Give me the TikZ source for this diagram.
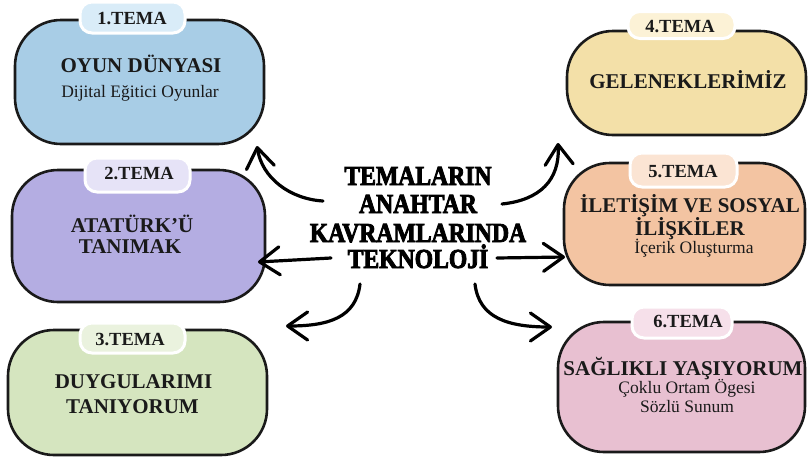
\documentclass[tikz,border=0pt]{standalone}
\usepackage{fontspec}
\setmainfont{Liberation Serif}
\newfontfamily\heavy[FakeBold=3,FakeStretch=0.86]{Liberation Serif Bold}
\usetikzlibrary{arrows.meta}
\definecolor{f1}{HTML}{A8CDE6}\definecolor{t1}{HTML}{D9ECF8}
\definecolor{f2}{HTML}{B4ADE2}\definecolor{t2}{HTML}{E6E3F7}
\definecolor{f3}{HTML}{D5E5BF}\definecolor{t3}{HTML}{EAF2DE}
\definecolor{f4}{HTML}{F3E0A8}\definecolor{t4}{HTML}{FCF2D6}
\definecolor{f5}{HTML}{F3C4A2}\definecolor{t5}{HTML}{FBE4D3}
\definecolor{f6}{HTML}{E8C0D1}\definecolor{t6}{HTML}{F6E0EA}
\definecolor{ink}{HTML}{1A1A1A}
\tikzset{
  box/.style={draw=ink, line width=2.6pt, rounded corners=46pt, inner sep=0pt},
  tab/.style={draw=white, line width=3pt, rounded corners=12pt, inner sep=0pt},
  tabtxt/.style={anchor=base, inner sep=0pt, text=ink, font=\fontsize{18.5}{20}\selectfont\bfseries},
  head/.style={anchor=base, inner sep=0pt, text=ink, font=\fontsize{21}{23}\selectfont\bfseries},
  sub/.style={anchor=base, inner sep=0pt, text=ink, font=\fontsize{17.5}{19}\selectfont},
  ctr/.style={anchor=base, inner sep=0pt, text=black, font=\fontsize{27.5}{28}\selectfont\heavy},
  arr/.style={line width=3.2pt, black, line cap=round, line join=round,
    -{Straight Barb[length=20pt,width=28pt,line width=3.2pt,round]}}
}
\begin{document}
\begin{tikzpicture}[x=1pt,y=-1pt]
\useasboundingbox (0,0) rectangle (809,461);
% boxes
\node[box, fill=f1, minimum width=249pt, minimum height=124pt] (b1) at (139.5,82) {};
\node[box, fill=f2, minimum width=253pt, minimum height=132pt] (b2) at (138.5,236) {};
\node[box, fill=f3, minimum width=259pt, minimum height=125pt] (b3) at (137.5,392.5) {};
\node[box, fill=f4, minimum width=239pt, minimum height=104pt] (b4) at (686.5,83) {};
\node[box, fill=f5, minimum width=241pt, minimum height=122pt] (b5) at (684.5,224) {};
\node[box, fill=f6, minimum width=247pt, minimum height=130pt] (b6) at (681.5,387) {};
% tabs
\node[tab, fill=t1, minimum width=105pt, minimum height=31pt] (p1) at (132.5,17.5) {};
\node[tab, fill=t2, minimum width=105pt, minimum height=34pt] (p2) at (137.5,175) {};
\node[tab, fill=t3, minimum width=105pt, minimum height=30pt] (p3) at (132.5,338) {};
\node[tab, fill=t4, minimum width=107pt, minimum height=27pt] (p4) at (681.5,25) {};
\node[tab, fill=t5, minimum width=107pt, minimum height=34pt] (p5) at (683.5,170) {};
\node[tab, fill=t6, minimum width=100pt, minimum height=31pt] (p6) at (682,322.5) {};
\node[tabtxt] (l1) at (132,24) {1.TEMA};
\node[tabtxt] (l2) at (139,179) {2.TEMA};
\node[tabtxt] (l3) at (130,345) {3.TEMA};
\node[tabtxt] (l4) at (680,32) {4.TEMA};
\node[tabtxt] (l5) at (683,177) {5.TEMA};
\node[tabtxt] (l6) at (688,327) {6.TEMA};
% box texts
\node[head] (h1) at (141,72) {OYUN DÜNYASI};
\node[sub] (s1) at (140,97) {Dijital Eğitici Oyunlar};
\node[head] (h2a) at (132,232) {ATATÜRK’Ü};
\node[head] (h2b) at (130,253) {TANIMAK};
\node[head] (h3a) at (133.5,388) {DUYGULARIMI};
\node[head] (h3b) at (132.5,413) {TANIYORUM};
\node[head] (h4) at (688,88) {GELENEKLERİMİZ};
\node[head] (h5a) at (690,212) {İLETİŞİM VE SOSYAL};
\node[head] (h5b) at (690,235) {İLİŞKİLER};
\node[sub] (s5) at (694,253) {İçerik Oluşturma};
\node[head] (h6) at (683,375) {SAĞLIKLI YAŞIYORUM};
\node[sub] (s6a) at (687,393) {Çoklu Ortam Ögesi};
\node[sub] (s6b) at (687,412) {Sözlü Sunum};
% center
\node[ctr] (c1) at (418,185) {TEMALARIN};
\node[ctr] (c2) at (418,213) {ANAHTAR};
\node[ctr] (c3) at (418,242) {KAVRAMLARINDA};
\node[ctr] (c4) at (418,268) {TEKNOLOJİ};
% arrow end points
\coordinate (a1s) at (323,201); \coordinate (a1e) at (257,146);
\coordinate (a2s) at (331,258); \coordinate (a2e) at (258,262);
\coordinate (a3s) at (360,284); \coordinate (a3e) at (286,326);
\coordinate (a4s) at (502,204); \coordinate (a4e) at (558,143);
\coordinate (a5s) at (497,258); \coordinate (a5e) at (565,257);
\coordinate (a6s) at (475,284); \coordinate (a6e) at (552,327);
\draw[arr] (a1s) .. controls (290,199) and (262,178) .. (a1e);
\draw[arr] (a2s) -- (a2e);
\draw[arr] (a3s) .. controls (356,318) and (328,326) .. (a3e);
\draw[arr] (a4s) .. controls (540,200) and (560,180) .. (a4e);
\draw[arr] (a5s) -- (a5e);
\draw[arr] (a6s) .. controls (479,318) and (508,327) .. (a6e);
\end{tikzpicture}
\end{document}
